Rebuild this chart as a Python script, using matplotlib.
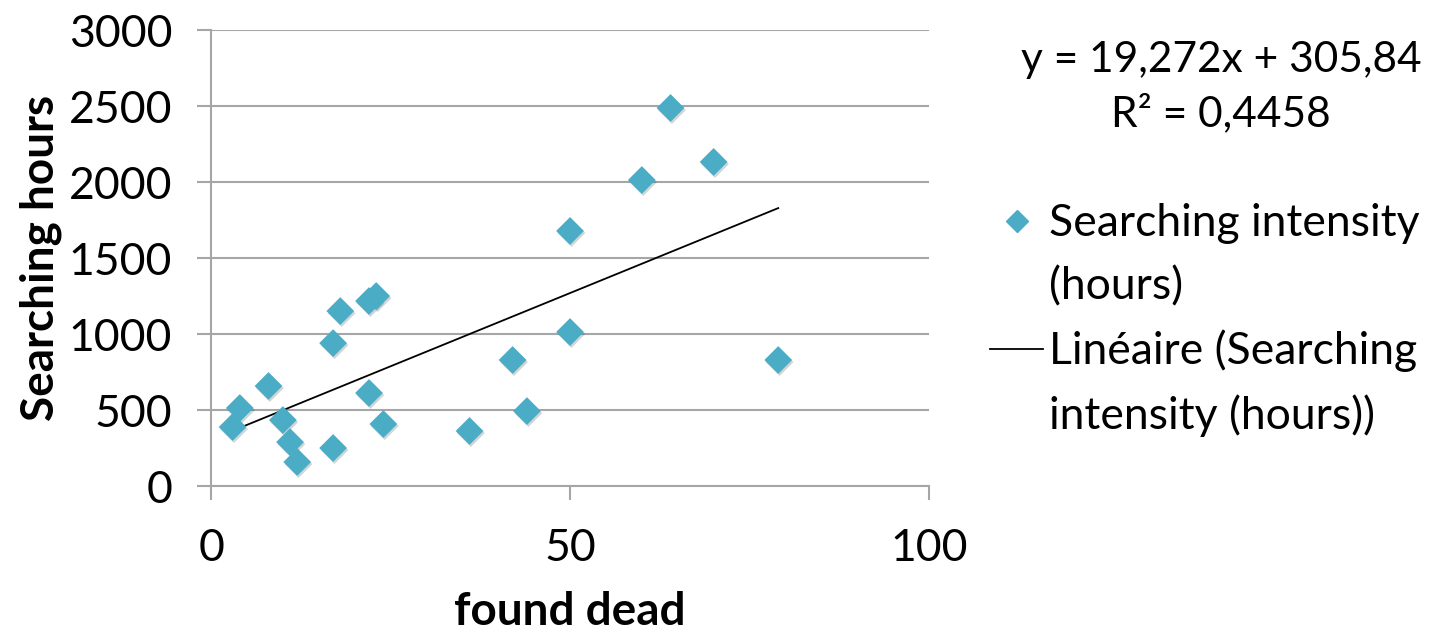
import matplotlib
matplotlib.use("Agg")
import numpy as np
import matplotlib.pyplot as plt
import matplotlib.patheffects as pe
from matplotlib.lines import Line2D

# Data
found_dead = [3, 4, 8, 10, 11, 12, 17, 17, 18, 22, 22, 23, 24, 36, 42, 44, 50, 50, 60, 64, 70, 79]
search_hours = [388, 513, 658, 434, 289, 158, 250, 940, 1151, 612, 1217, 1250, 408,
                362, 829, 493, 1013, 1678, 2013, 2487, 2132, 829]
slope = 19.272
intercept = 305.84
r_squared = 0.4458
y_ticks = [0, 500, 1000, 1500, 2000, 2500, 3000]
x_ticks = [0, 50, 100]

plt.rcParams['font.family'] = ['Lato', 'DejaVu Sans']

fig = plt.figure(figsize=(14.29, 6.33), dpi=100)
ax = fig.add_axes([0.1477, 0.2322, 0.5024, 0.7204])

grid_col = '#a6a6a6'
marker_col = '#4bacc6'

# trend line over the data range
xs = np.array([min(found_dead), max(found_dead)])
trend, = ax.plot(xs, slope * xs + intercept, color='black', lw=1.3, zorder=3)

pts = ax.scatter(found_dead, search_hours, marker='D', s=200, color=marker_col,
                 linewidths=0, zorder=4,
                 path_effects=[pe.SimplePatchShadow(offset=(1, -1.5), alpha=0.2), pe.Normal()])

ax.set_xlim(0, 100)
ax.set_ylim(0, 3000)
ax.set_xticks(x_ticks)
ax.set_yticks(y_ticks)
ax.tick_params(axis='both', labelsize=32, color=grid_col, width=1.5, length=10)
ax.tick_params(axis='y', pad=18)
ax.tick_params(axis='x', pad=20)
ax.yaxis.grid(True, color=grid_col, lw=1.5)
ax.set_axisbelow(True)
for s in ['top', 'right']:
    ax.spines[s].set_visible(False)
for s in ['left', 'bottom']:
    ax.spines[s].set_color(grid_col)
    ax.spines[s].set_linewidth(1.5)

ax.set_xlabel('found dead', fontsize=33, fontweight='bold', labelpad=16)
ax.set_ylabel('Searching hours', fontsize=33, fontweight='bold', labelpad=5)

fig.text(0.8545, 0.905, f'y = {slope:.3f}x + {intercept:.2f}'.replace('.', ','),
         ha='center', va='center', fontsize=30.5)
fig.text(0.8545, 0.821, f'R² = {r_squared:.4f}'.replace('.', ','),
         ha='center', va='center', fontsize=30.5)

# legend: handle sits on the first line of each label, as in the reference
blank = Line2D([], [], color='none')
leg_marker = Line2D([], [], marker='D', ms=11, color=marker_col, lw=0)
leg = fig.legend(handles=[leg_marker, blank, trend, blank],
                 labels=['Searching intensity', '(hours)', 'Linéaire (Searching', 'intensity (hours))'],
                 loc='upper left', bbox_to_anchor=(0.6928, 0.679),
                 frameon=False, fontsize=32, handlelength=1.2, handletextpad=0.12,
                 labelspacing=0.5, borderaxespad=0, borderpad=0)

fig.savefig('out.png', dpi=100)
